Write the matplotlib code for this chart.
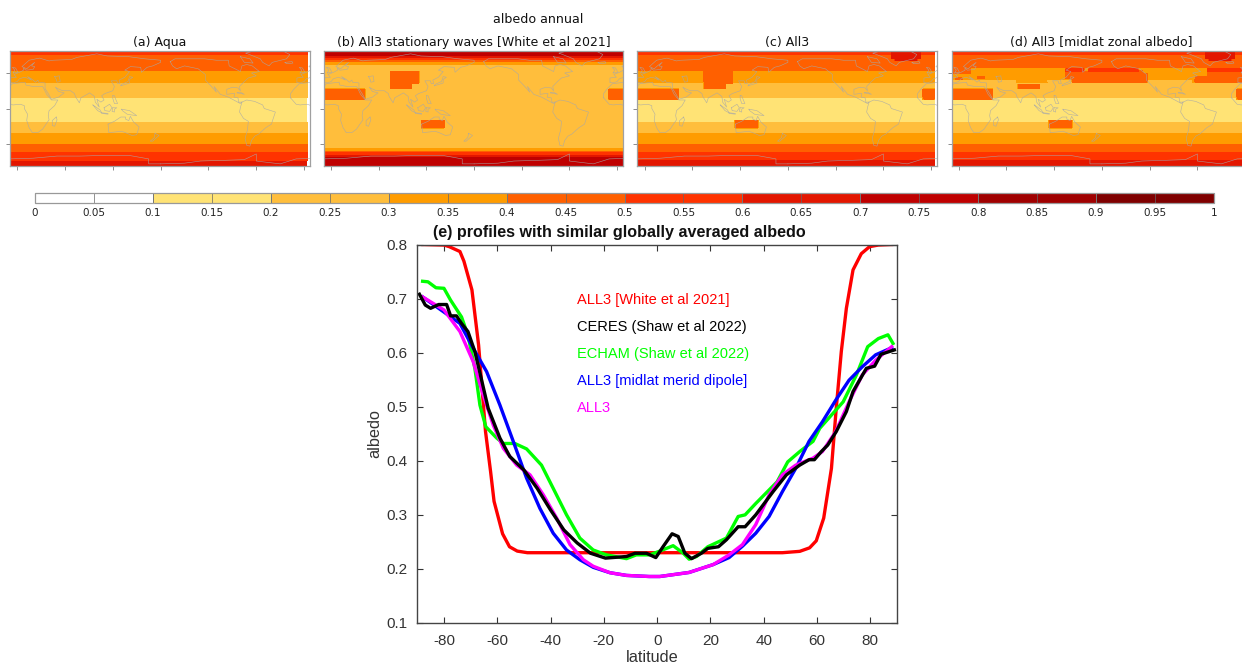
import numpy as np
import matplotlib
matplotlib.use("Agg")
import matplotlib.pyplot as plt
from matplotlib.colors import ListedColormap, BoundaryNorm

plt.rcParams["axes.unicode_minus"] = False

W, H = 1242, 665

# albedo bins 0..1 every 0.1
level_edges = np.arange(0, 1.01, 0.1)
level_colors = ["#ffffff", "#ffe375", "#ffbe3c", "#ff9c00", "#ff6000",
                "#ff3300", "#e31600", "#bf0000", "#a00000", "#7f0000"]
cbar_ticks = np.arange(0, 1.001, 0.05)
cbar_labels = ["0", "0.05", "0.1", "0.15", "0.2", "0.25", "0.3", "0.35", "0.4", "0.45", "0.5",
               "0.55", "0.6", "0.65", "0.7", "0.75", "0.8", "0.85", "0.9", "0.95", "1"]

# zonal bands (lat edges from north to south, albedo in each band)
aqua_edges = [90, 75.7, 53.3, 37.4, 16.4, -19.2, -35, -51, -63, -74, -90]
aqua_vals = [0.55, 0.45, 0.35, 0.25, 0.15, 0.25, 0.35, 0.45, 0.55, 0.65]
white_edges = [90, 74.3, 71.5, 68.7, 66.4, 62.6, -57, -60.7, -63, -65.4, -68.7, -90]
white_vals = [0.75, 0.65, 0.55, 0.45, 0.35, 0.25, 0.35, 0.45, 0.55, 0.65, 0.75]

# boxes: lon0, lon1, lat0, lat1, albedo
sahara = [(-20, 42, 13, 27, 0.45), (350, 380, 13, 27, 0.45)]
tibet = [(75, 101, 28, 52, 0.45), (101, 110, 36, 52, 0.45)]
australia = [(114, 142, -27, -17, 0.45)]
greenland = [(311, 346, 70, 90, 0.65), (315, 342, 68, 70, 0.65)]
midlat_boxes = [
    (142, 238, 37.4, 56, 0.45), (134, 142, 42, 56, 0.45), (297, 380, 37.4, 56, 0.45),
    (-20, 15, 48, 56, 0.45),
    (134, 226, 52.3, 56, 0.55), (310, 380, 52.3, 56, 0.55),
    (-20, 15, 40.7, 49, 0.35), (15, 134, 40.7, 58.4, 0.35), (-20, 73, 37.4, 40.7, 0.25),
    (73, 111, 36.4, 40.7, 0.35), (111, 142, 37.4, 40.7, 0.25),
    (-3, 4, 41, 43, 0.45), (24, 32, 42, 45, 0.45), (158, 163, 52, 58, 0.35),
    (238, 297, 40.7, 58.4, 0.35), (232, 238, 50, 58.4, 0.35), (226, 232, 54, 58.4, 0.35),
    (297, 312, 45, 58.4, 0.35), (238, 293, 37.4, 40.7, 0.25),
    (75, 101, 28, 34, 0.45),
]

map_titles = ["(a) Aqua", "(b) All3 stationary waves [White et al 2021]", "(c) All3",
              "(d) All3 [midlat zonal albedo]"]

# rough coastlines, lon/lat
africa = [(-17, 15), (-17, 21), (-13, 27), (-6, 35), (10, 37), (11, 33), (20, 31), (32, 31), (34, 27), (37, 20),
          (43, 12), (51, 12), (47, 4), (40, -3), (39, -10), (40, -16), (35, -24), (32, -29), (26, -34), (19, -34),
          (15, -27), (12, -17), (13, -8), (9, 0), (9, 4), (4, 6), (-5, 5), (-10, 6), (-17, 15)]
eurasia = [(-9, 37), (-9, 43), (-1, 44), (-4, 48), (3, 51), (8, 54), (8, 57), (11, 54), (20, 55), (22, 59), (18, 60),
           (22, 65), (17, 61), (12, 56), (6, 59), (15, 68), (28, 71), (40, 67), (45, 68), (68, 69), (75, 72), (100, 77),
           (113, 74), (140, 73), (160, 70), (180, 68), (180, 65), (170, 60), (163, 58), (156, 51), (155, 58), (142, 59),
           (135, 54), (141, 52), (135, 44), (128, 40), (129, 35), (126, 35), (125, 39), (118, 39), (122, 31), (120, 25),
           (110, 21), (106, 18), (109, 12), (105, 9), (100, 13), (103, 2), (98, 9), (97, 17), (91, 22), (80, 15),
           (78, 8), (73, 17), (72, 21), (67, 25), (57, 25), (51, 28), (48, 30), (52, 24), (59, 22), (52, 16), (43, 13),
           (39, 21), (35, 28), (35, 36), (27, 37), (26, 40), (23, 37), (19, 41), (13, 45), (18, 40), (12, 43), (9, 44),
           (3, 42), (0, 38), (-5, 36), (-9, 37)]
north_america = [(-168, 66), (-162, 70), (-140, 70), (-125, 70), (-110, 68), (-95, 68), (-94, 60), (-85, 55), (-80, 52),
                 (-78, 60), (-72, 62), (-65, 60), (-56, 52), (-66, 50), (-60, 46), (-70, 43), (-75, 38), (-81, 31), (-80, 25),
                 (-83, 29), (-90, 30), (-97, 27), (-97, 20), (-90, 21), (-87, 21), (-88, 16), (-83, 15), (-82, 9), (-78, 9),
                 (-80, 7), (-85, 10), (-95, 16), (-105, 20), (-110, 27), (-113, 31), (-110, 23), (-117, 32), (-124, 40),
                 (-124, 48), (-133, 56), (-150, 60), (-160, 56), (-165, 60), (-168, 66)]
south_america = [(-78, 9), (-72, 12), (-62, 10), (-52, 5), (-50, 0), (-36, -5), (-39, -15), (-41, -22), (-48, -27),
                 (-57, -36), (-62, -39), (-66, -45), (-68, -53), (-72, -52), (-74, -42), (-71, -30), (-70, -18), (-76, -14),
                 (-81, -5), (-80, 1), (-78, 9)]
greenland_coast = [(-73, 78), (-60, 82), (-30, 83), (-18, 76), (-22, 70), (-40, 65), (-44, 60), (-52, 65), (-55, 70), (-73, 78)]
australia_coast = [(114, -22), (122, -18), (130, -12), (136, -12), (136, -15), (140, -17), (142, -11), (146, -19), (153, -26),
                   (150, -37), (144, -38), (138, -35), (131, -32), (124, -33), (115, -34), (114, -22)]
antarctica = [(-180, -78), (-150, -77), (-130, -74), (-100, -73), (-75, -72), (-60, -64), (-60, -74), (-30, -78), (-10, -71),
              (20, -70), (50, -67), (80, -67), (110, -66), (140, -66), (165, -71), (165, -78), (180, -78)]
madagascar = [(49, -12), (50, -16), (47, -25), (44, -24), (44, -17), (49, -12)]
new_guinea = [(131, -1), (141, -3), (150, -10), (143, -9), (138, -8), (132, -3), (131, -1)]
borneo = [(109, 1), (116, 6), (119, 1), (116, -4), (110, -3), (109, 1)]
sumatra = [(95, 5), (104, -2), (106, -6), (101, -3), (95, 5)]
java = [(106, -6), (114, -7), (114, -8), (106, -7), (106, -6)]
sulawesi = [(120, 1), (125, 1), (122, -1), (122, -5), (119, -4), (120, 1)]
philippines = [(120, 18), (122, 18), (124, 12), (126, 7), (122, 7), (120, 14), (120, 18)]
japan = [(130, 32), (136, 34), (141, 36), (141, 41), (145, 44), (141, 45), (139, 38), (131, 34), (130, 32)]
new_zealand = [(173, -35), (178, -38), (175, -41), (170, -46), (167, -46), (172, -41), (173, -35)]
uk = [(-5, 50), (1, 51), (-2, 57), (-6, 58), (-3, 54), (-5, 50)]
iceland = [(-24, 65), (-15, 66), (-14, 64), (-22, 63), (-24, 65)]
cuba = [(-84, 22), (-75, 20), (-80, 23), (-84, 22)]
caspian = [(47, 45), (53, 46), (54, 38), (50, 37), (49, 41), (47, 45)]
baffin = [(-80, 73), (-68, 70), (-64, 64), (-75, 65), (-80, 73)]
coasts = [africa, eurasia, north_america, south_america, greenland_coast, australia_coast, antarctica, madagascar,
          new_guinea, borneo, sumatra, java, sulawesi, philippines, japan, new_zealand, uk, iceland, cuba, caspian, baffin]

# panel e profiles
red_lat = [-88, -80, -78, -74, -72.5, -69.5, -67, -64.4, -62.5, -61.2, -58, -55.4, -52.5, -48.7, -20, 20, 47, 53.5, 57.2,
           59.7, 62.5, 65.4, 67.2, 69.1, 71, 73.5, 76.6, 79.7, 83, 88]
red_val = [0.8, 0.799, 0.796, 0.787, 0.769, 0.716, 0.614, 0.454, 0.38, 0.325, 0.265, 0.241, 0.233, 0.23, 0.23, 0.23, 0.23,
           0.2325, 0.239, 0.252, 0.294, 0.386, 0.497, 0.602, 0.682, 0.753, 0.783, 0.796, 0.799, 0.8]
magenta_lat = [-88, -80, -74, -69, -65.3, -61.5, -57.7, -52.7, -47.7, -42.7, -37.7, -32.7, -27.7, -24, -17.7, -11.5, -3, 1,
               12, 21, 27, 32, 37, 42, 47, 52, 58.5, 62, 67, 72, 77, 82, 88]
magenta_val = [0.703, 0.679, 0.639, 0.583, 0.522, 0.466, 0.423, 0.392, 0.374, 0.337, 0.294, 0.245, 0.217, 0.205, 0.193, 0.188,
               0.186, 0.186, 0.1935, 0.208, 0.226, 0.245, 0.282, 0.337, 0.374, 0.392, 0.405, 0.417, 0.454, 0.509, 0.559, 0.586, 0.611]
blue_lat = [-88, -80, -74, -69, -64, -59, -54, -49, -44, -39, -34, -29, -24, -17.7, -11.5, -3, 1, 12, 21, 27, 32, 37, 42, 47,
            52, 57, 62, 67, 72, 77, 82, 88]
blue_val = [0.703, 0.675, 0.654, 0.608, 0.565, 0.503, 0.436, 0.368, 0.312, 0.266, 0.235, 0.217, 0.203, 0.193, 0.188, 0.186,
            0.186, 0.1935, 0.208, 0.221, 0.242, 0.266, 0.297, 0.343, 0.386, 0.436, 0.472, 0.512, 0.549, 0.574, 0.596, 0.609]
green_lat = [-88, -86, -83, -80, -77.5, -73.4, -71, -68.4, -66.5, -64.3, -60.2, -57.7, -53.4, -49, -43.4, -39, -34, -29, -24,
             -19, -11.5, -7.8, -2.8, 1, 6, 9.8, 12, 14.8, 19, 26, 30.4, 33, 37, 45, 49, 53.5, 58.5, 61, 69.8, 74.8, 79, 83,
             86.6, 88.5]
green_val = [0.732, 0.731, 0.72, 0.719, 0.697, 0.666, 0.632, 0.571, 0.503, 0.463, 0.442, 0.432, 0.432, 0.422, 0.392, 0.349,
             0.3, 0.257, 0.235, 0.226, 0.219, 0.226, 0.226, 0.233, 0.243, 0.229, 0.218, 0.223, 0.241, 0.257, 0.297, 0.3, 0.321,
             0.361, 0.398, 0.417, 0.436, 0.46, 0.509, 0.559, 0.611, 0.626, 0.633, 0.617]
black_lat = [-89.2, -87, -85, -82, -79, -77.5, -75.3, -73.4, -71, -68.4, -66, -63.4, -59, -55.3, -50, -45, -40, -35, -30, -25,
             -19.4, -11.5, -8.3, -4, -0.5, 2.2, 5.6, 7.9, 10.4, 12.9, 16.6, 19, 23, 26, 30.4, 33, 37, 43.5, 48.5, 53.5, 57,
             59, 61.6, 64, 67.2, 71, 73.5, 78.5, 81.6, 84, 89]
black_val = [0.708, 0.688, 0.682, 0.689, 0.689, 0.668, 0.668, 0.654, 0.639, 0.602, 0.552, 0.497, 0.442, 0.408, 0.383, 0.349,
             0.309, 0.272, 0.248, 0.229, 0.22, 0.223, 0.229, 0.229, 0.221, 0.241, 0.265, 0.26, 0.229, 0.219, 0.229, 0.238,
             0.241, 0.254, 0.278, 0.278, 0.3, 0.343, 0.374, 0.392, 0.402, 0.402, 0.417, 0.429, 0.454, 0.491, 0.528, 0.571,
             0.575, 0.597, 0.605]
legend_names = ["ALL3 [White et al 2021]", "CERES (Shaw et al 2022)", "ECHAM (Shaw et al 2022)",
                "ALL3 [midlat merid dipole]", "ALL3"]
legend_colors = ["#ff0000", "#000000", "#00ff00", "#0000ff", "#ff00ff"]
legend_y = [0.7, 0.65, 0.6, 0.55, 0.5]


def px_axes(fig, x0, y0, x1, y1):
    # pixel box, y measured from the top of the picture
    return fig.add_axes([x0 / W, 1 - y1 / H, (x1 - x0) / W, (y1 - y0) / H])


def make_field(edges, vals, boxes, lon_end):
    lon = np.arange(-20, lon_end, 1.0)
    lat = np.arange(-90, 90.5, 0.75)
    field = np.zeros((len(lat), len(lon)))
    for i in range(len(vals)):
        field[(lat <= edges[i]) & (lat >= edges[i + 1]), :] = vals[i]
    for x0, x1, y0, y1, v in boxes:
        field[np.ix_((lat >= y0) & (lat <= y1), (lon >= x0) & (lon <= x1))] = v
    return lon, lat, field


def draw_map(ax, title, edges, vals, boxes, lon_end=365):
    lon, lat, field = make_field(edges, vals, boxes, lon_end)
    ax.contourf(lon, lat, field, levels=level_edges, colors=level_colors)
    for line in coasts:
        xy = np.array(line, dtype=float)
        for shift in (0, 360):
            ax.plot(xy[:, 0] + shift, xy[:, 1], color="#a8a8a8", lw=0.42, alpha=0.85)
    ax.set_xlim(-9, -9 + 300 / 0.797)
    ax.set_ylim(-81, 81)
    ax.set_xticks(np.arange(0, 361, 60))
    ax.set_yticks([-50, 0, 50])
    ax.tick_params(length=3, width=0.7, color="#8c8c8c", labelbottom=False, labelleft=False)
    for s in ax.spines.values():
        s.set_color("#a0a0a0")
        s.set_linewidth(0.9)
    ax.set_title(title, fontsize=9, pad=3.6, color="#111111")


fig = plt.figure(figsize=(W / 100, H / 100), dpi=100)

boxes_c = sahara + tibet + australia + greenland
boxes_d = midlat_boxes + sahara + australia + greenland
draw_map(px_axes(fig, 10, 51, 310, 166), map_titles[0], aqua_edges, aqua_vals, [])
draw_map(px_axes(fig, 324, 51, 623, 166), map_titles[1], white_edges, white_vals, sahara + tibet + australia, 381)
draw_map(px_axes(fig, 637.5, 51, 937, 166), map_titles[2], aqua_edges, aqua_vals, boxes_c)
draw_map(px_axes(fig, 951.5, 51, 1251, 166), map_titles[3], aqua_edges, aqua_vals, boxes_d)
fig.text(538 / W, 1 - 19.5 / H, "albedo annual", ha="center", va="center", fontsize=9.1, color="#111111")

# colorbar
cax = px_axes(fig, 35, 193, 1214, 203)
cmap = ListedColormap(level_colors)
cb = fig.colorbar(plt.cm.ScalarMappable(norm=BoundaryNorm(level_edges, cmap.N), cmap=cmap), cax=cax,
                  orientation="horizontal", spacing="proportional", drawedges=True)
cb.dividers.set_color("#777777")
cb.dividers.set_linewidth(0.7)
cb.outline.set_edgecolor("#999999")
cb.outline.set_linewidth(0.9)
cb.set_ticks(cbar_ticks, labels=cbar_labels)
cb.ax.minorticks_off()
cb.ax.tick_params(direction="in", length=7.2, width=0.5, color="#666666", labelsize=7.5, pad=3.5, labelcolor="#222222")

# profiles
ax = px_axes(fig, 417.3, 244.5, 897, 623)
ax.plot(red_lat, red_val, color="#ff0000", lw=2.4)
ax.plot(green_lat, green_val, color="#00ff00", lw=2.4)
ax.plot(blue_lat, blue_val, color="#0000ff", lw=2.4)
ax.plot(magenta_lat, magenta_val, color="#ff00ff", lw=2.4)
ax.plot(black_lat, black_val, color="#000000", lw=2.4)
ax.set_xlim(-90, 90)
ax.set_ylim(0.1, 0.8)
ax.set_xticks(np.arange(-80, 81, 20))
ax.set_yticks(np.arange(0.1, 0.81, 0.1))
ax.tick_params(direction="in", top=True, right=True, length=4.5, width=0.8, color="#333333",
               labelsize=11, labelcolor="#333333")
ax.tick_params(axis="x", pad=8)
ax.tick_params(axis="y", pad=7)
for lab in ax.get_xticklabels() + ax.get_yticklabels():
    lab.set_fontfamily("Liberation Sans")
for s in ax.spines.values():
    s.set_color("#444444")
    s.set_linewidth(1.0)
for name, c, y in zip(legend_names, legend_colors, legend_y):
    ax.text(-30, y - 0.002, name, color=c, fontsize=10.5, family="Liberation Sans", va="center")
ax.set_xlabel("latitude", fontsize=11.7, family="Liberation Sans", color="#333333")
ax.set_ylabel("albedo", fontsize=11.7, family="Liberation Sans", color="#333333", labelpad=3)
ax.xaxis.set_label_coords(0.49, -0.072)
fig.text(619 / W, 1 - 232 / H, "(e) profiles with similar globally averaged albedo", ha="center", va="center",
         fontsize=11.65, fontweight="bold", family="Liberation Sans", color="#111111")

fig.savefig("out.png", dpi=100)
plt.close(fig)
